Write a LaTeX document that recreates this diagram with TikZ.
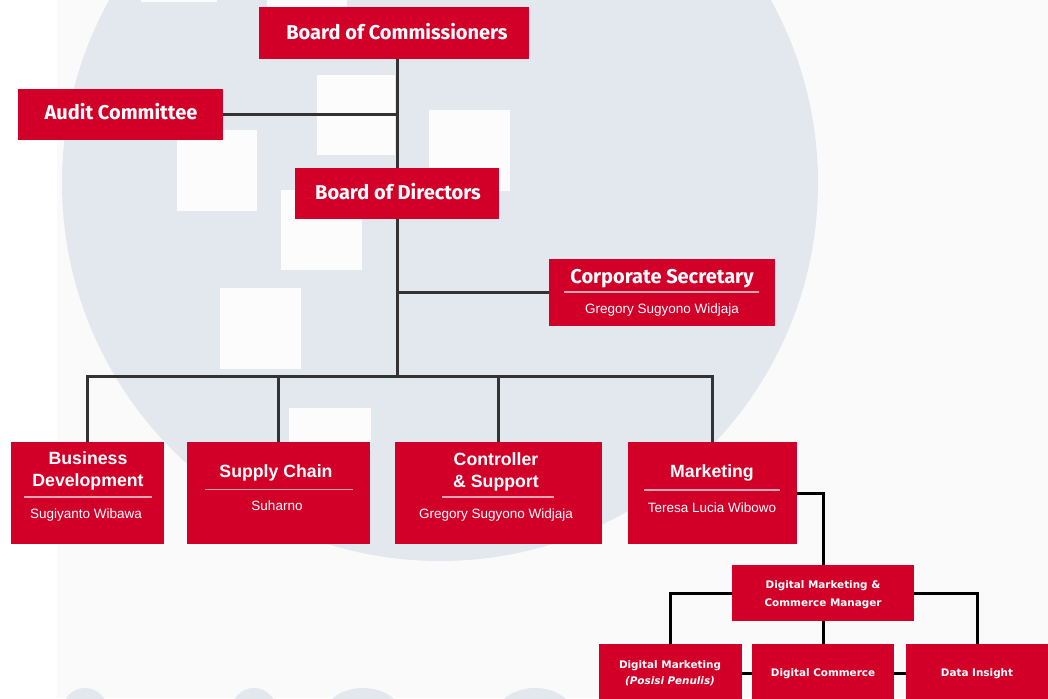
\documentclass[tikz,border=0pt]{standalone}
\usepackage{fontspec}
\setmainfont{Liberation Sans}
\newfontfamily\titlefont{Fira Sans}
\newfontfamily\smallfont{DejaVu Sans}
\definecolor{boxred}{RGB}{210,0,40}
\definecolor{bgcircle}{RGB}{227,231,238}
\definecolor{bgpale}{RGB}{250,250,250}
\definecolor{bgsquare}{RGB}{252,252,253}
\definecolor{linegray}{RGB}{51,51,51}
\definecolor{divcol}{RGB}{240,165,176}
\begin{document}
\begin{tikzpicture}[x=1pt,y=-1pt,
  box/.style={fill=boxred, draw=none, inner sep=0pt, text=white, align=center},
  toptitle/.style={text=white, font=\titlefont\bfseries\fontsize{20}{24}\selectfont, inner sep=0pt},
  midtitle/.style={text=white, font=\bfseries\fontsize{17.7}{22}\selectfont, inner sep=0pt, anchor=base},
  personname/.style={text=white, font=\fontsize{13.5}{16}\selectfont, inner sep=0pt, anchor=base},
  lowtitle/.style={text=white, font=\smallfont\bfseries\fontsize{10.4}{12}\selectfont, inner sep=0pt, anchor=base},
  conn/.style={draw=linegray, line width=3pt},
  conndark/.style={draw=black, line width=3pt},
  divline/.style={draw=divcol, line width=1.4pt},
  sq/.style={fill=bgsquare, draw=none},
  bump/.style={fill=bgcircle, draw=none}]
\useasboundingbox (0,0) rectangle (1048,698);
\clip (0,0) rectangle (1048,698);
% background
\fill[white] (0,0) rectangle (1048,698);
\fill[bgpale] (57,0) rectangle (1048,698);
\fill[bgcircle] (440,183) circle[radius=378pt];
\fill[sq] (141,-10) rectangle (217,2);
\fill[sq] (267,-10) rectangle (347,8);
\fill[sq] (177,130) rectangle (257,211);
\fill[sq] (317,75) rectangle (395,155);
\fill[sq] (429,110) rectangle (510,191);
\fill[sq] (281,190) rectangle (362,270);
\fill[sq] (220,288) rectangle (301,369);
\fill[sq] (289,408) rectangle (371,450);
\fill[bump] (85,712) ellipse[x radius=23pt, y radius=24pt];
\fill[bump] (254,712) ellipse[x radius=23pt, y radius=24pt];
\fill[bump] (363,716) ellipse[x radius=39pt, y radius=28pt];
\fill[bump] (535,716) ellipse[x radius=39pt, y radius=28pt];

% boxes
\node[box, minimum width=270pt, minimum height=52pt] (boc) at (394,33) {};
\node[box, minimum width=205pt, minimum height=51pt] (audit) at (120.5,114.5) {};
\node[box, minimum width=204pt, minimum height=51pt] (bod) at (397,193.5) {};
\node[box, minimum width=226pt, minimum height=67pt] (cs) at (662,292.5) {};
\node[box, minimum width=153pt, minimum height=102pt] (bd) at (87.5,493) {};
\node[box, minimum width=183pt, minimum height=102pt] (sc) at (278.5,493) {};
\node[box, minimum width=207pt, minimum height=102pt] (ctrl) at (498.5,493) {};
\node[box, minimum width=169pt, minimum height=102pt] (mkt) at (712.5,493) {};
\node[box, minimum width=182pt, minimum height=56pt] (dmcm) at (823,593) {};
\node[box, minimum width=143pt, minimum height=58pt] (dm) at (670.5,673) {};
\node[box, minimum width=142pt, minimum height=58pt] (dc) at (823,673) {};
\node[box, minimum width=142pt, minimum height=58pt] (di) at (977,673) {};

% texts
\node[toptitle, anchor=base] (boct) at (397,40) {Board of Commissioners};
\node[toptitle, anchor=base] (auditt) at (121,119) {Audit Committee};
\node[toptitle, anchor=base] (bodt) at (398,199) {Board of Directors};
\node[toptitle, anchor=base] (cst) at (662,283) {Corporate Secretary};
\draw[divline] (564,292) -- (759,292);
\node[personname] (csn) at (662,313) {Gregory Sugyono Widjaja};

\node[midtitle] (bdt1) at (88,464) {Business};
\node[midtitle] (bdt2) at (88,486) {Development};
\draw[divline] (24,497) -- (152,497);
\node[personname] (bdn) at (86,518.5) {Sugiyanto Wibawa};

\node[midtitle] (sct) at (276,477) {Supply Chain};
\draw[divline] (205,489.5) -- (353,489.5);
\node[personname] (scn) at (277,510) {Suharno};

\node[midtitle] (ctrlt1) at (496,465) {Controller};
\node[midtitle] (ctrlt2) at (496,487) {\& Support};
\draw[divline] (442,497) -- (554,497);
\node[personname] (ctrln) at (496,518) {Gregory Sugyono Widjaja};

\node[midtitle] (mktt) at (712,477) {Marketing};
\draw[divline] (644,490) -- (780,490);
\node[personname] (mktn) at (712,512) {Teresa Lucia Wibowo};

\node[lowtitle] (dmcmt1) at (823,588.5) {Digital Marketing \&};
\node[lowtitle] (dmcmt2) at (823,606) {Commerce Manager};
\node[lowtitle] (dmt1) at (670,668) {Digital Marketing};
\node[lowtitle] (dmt2) at (670,684) {\itshape (Posisi Penulis)};
\node[lowtitle] (dct) at (823,676) {Digital Commerce};
\node[lowtitle] (dit) at (977,676) {Data Insight};

% connectors
\coordinate (bus) at (0,376);
\draw[conn] (bod.north) -- (bod.north |- boc.south);
\draw[conn] (audit.east) -- (audit.east -| bod.north);
\draw[conn] (bod.south) -- (bod.south |- bus);
\draw[conn] (cs.west) -- (cs.west -| bod.south);
\draw[conn] (bd.north) |- (bus -| mkt.north) -- (mkt.north);
\draw[conn] (sc.north) -- (sc.north |- bus);
\draw[conn] (ctrl.north) -- (ctrl.north |- bus);
\draw[conndark] (mkt.east) -| (dmcm.north);
\draw[conndark] (dmcm.west) -| (dm.north);
\draw[conndark] (dmcm.east) -| (di.north);
\draw[conndark] (dmcm.south) -- (dc.north);
\draw[conndark] (dm.east) -- (dc.west);
\draw[conndark] (dc.east) -- (di.west);
\end{tikzpicture}
\end{document}
